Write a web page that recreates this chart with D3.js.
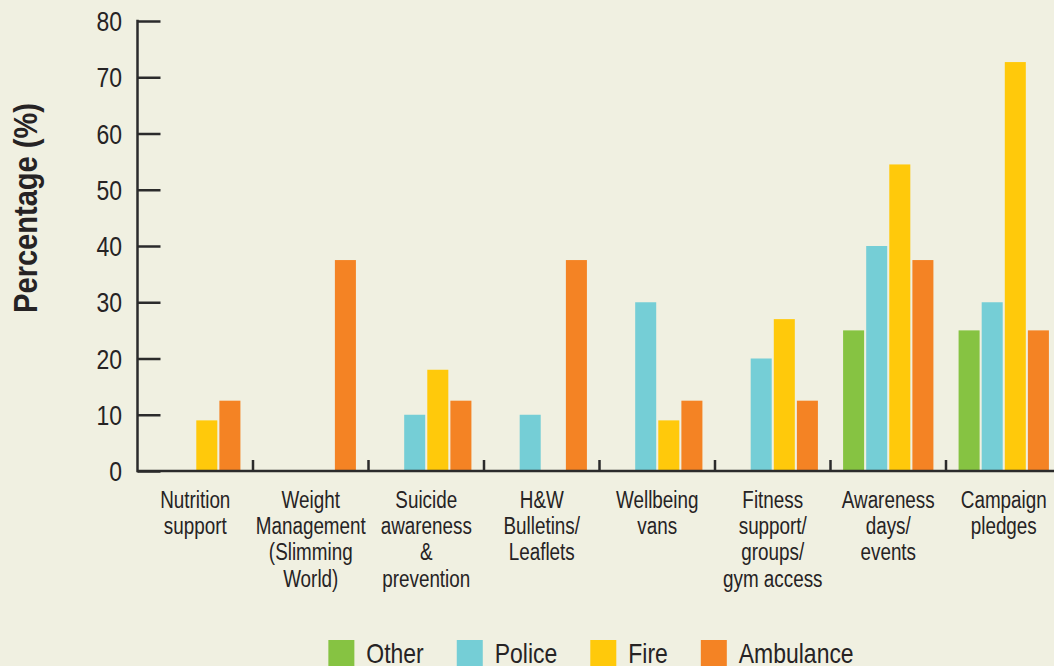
<!DOCTYPE html>
<html>
<head>
<meta charset="utf-8">
<script src="https://cdn.jsdelivr.net/npm/d3@7"></script>
<style>
  html, body { margin: 0; padding: 0; background: #f0f0e1; }
  svg { display: block; }
</style>
</head>
<body>
<main></main>
<script>
var categories = [
    ["Nutrition", "support"],
    ["Weight", "Management", "(Slimming", "World)"],
    ["Suicide", "awareness", "&", "prevention"],
    ["H&W", "Bulletins/", "Leaflets"],
    ["Wellbeing", "vans"],
    ["Fitness", "support/", "groups/", "gym access"],
    ["Awareness", "days/", "events"],
    ["Campaign", "pledges"]
]

var seriesNames = ["Other", "Police", "Fire", "Ambulance"]
var seriesColors = ["#86c342", "#75ced6", "#ffc90b", "#f48324"]

var other     = [null, null, null, null, null, null, 25, 25]
var police    = [null, null, 10, 10, 30, 20, 40, 30]
var fire      = [9, null, 18, null, 9, 27, 54.5, 72.7]
var ambulance = [12.5, 37.5, 12.5, 37.5, 12.5, 12.5, 37.5, 25]

var yTicks = [0, 10, 20, 30, 40, 50, 60, 70, 80]

var series = [other, police, fire, ambulance]
// no condensed face installed, so squeeze Liberation Sans horizontally
var font = "'Liberation Sans', Arial, sans-serif"
var squeeze = 0.82
var ink = "#262324"

function narrow(x, y, rot, k) {
    return "translate(" + x + "," + y + ")" + (rot ? " rotate(" + rot + ")" : "") + " scale(" + (k || squeeze) + ",1)"
}

var svg = d3.select("main")
    .append("svg")
    .attr("width", 1054)
    .attr("height", 666)
    .style("background", "#f0f0e1")

var x0 = d3.scaleBand()
    .domain(d3.range(categories.length))
    .range([137.5, 1061.5])

var x1 = d3.scaleBand()
    .domain(seriesNames)
    .range([0, x0.bandwidth()])
    .paddingInner(0.09)
    .paddingOuter(0.545)

var y = d3.scaleLinear()
    .domain([0, 80])
    .range([471, 21])

// bars
var groups = svg.append("g")
    .selectAll("g").data(series)
    .enter().append("g")
        .attr("fill", function(d, i) { return seriesColors[i] })

groups.each(function(vals, s) {
    d3.select(this).selectAll("rect")
        .data(vals.map(function(v, i) { return {v: v, i: i} }).filter(function(d) { return d.v != null }))
        .enter().append("rect")
            .attr("x", function(d) { return x0(d.i) + x1(seriesNames[s]) })
            .attr("width", x1.bandwidth())
            .attr("y", function(d) { return y(d.v) })
            .attr("height", function(d) { return y(0) - y(d.v) })
})

// y axis
var yAxis = d3.axisRight(y)
    .tickValues(yTicks)
    .tickSize(23)
    .tickFormat("")

var yGuide = svg.append("g")
    .attr("transform", "translate(137.5,0)")
    .call(yAxis)
yGuide.select(".domain").remove()
yGuide.selectAll("line").attr("stroke", "#2b2b2b").attr("stroke-width", 2.5)

svg.append("line")
    .attr("x1", 137.5).attr("x2", 137.5)
    .attr("y1", y(80) - 1.2).attr("y2", y(0) + 1.2)
    .attr("stroke", "#2b2b2b").attr("stroke-width", 2.5)

svg.append("g").selectAll("text").data(yTicks)
    .enter().append("text")
        .attr("transform", function(d) { return narrow(122, y(d)) })
        .attr("dy", "0.36em")
        .attr("text-anchor", "end")
        .attr("fill", ink)
        .style("font-family", font)
        .style("font-size", "28px")
        .text(function(d) { return d })

// x axis
svg.append("line")
    .attr("x1", 137.5).attr("x2", 1054)
    .attr("y1", y(0)).attr("y2", y(0))
    .attr("stroke", "#2b2b2b").attr("stroke-width", 2.5)

svg.append("g").selectAll("line").data(d3.range(1, categories.length))
    .enter().append("line")
        .attr("x1", function(d) { return x0(d) })
        .attr("x2", function(d) { return x0(d) })
        .attr("y1", y(0))
        .attr("y2", y(0) - 11)
        .attr("stroke", "#2b2b2b").attr("stroke-width", 2.5)

var catLabels = svg.append("g").selectAll("text").data(categories)
    .enter().append("text")
        .attr("transform", function(d, i) { return narrow(x0(i) + x0.bandwidth() / 2, 0) })
        .attr("text-anchor", "middle")
        .attr("fill", ink)
        .style("font-family", font)
        .style("font-size", "23px")

catLabels.each(function(lines) {
    d3.select(this).selectAll("tspan").data(lines)
        .enter().append("tspan")
            .attr("x", 0)
            .attr("y", function(d, j) { return 508 + j * 26.2 })
            .text(function(d) { return d })
})

// y title
svg.append("text")
    .attr("transform", narrow(37, 208, -90, 0.88))
    .attr("text-anchor", "middle")
    .attr("fill", ink)
    .style("font-family", font)
    .style("font-weight", "bold")
    .style("font-size", "33px")
    .text("Percentage (%)")

// legend
var legend = svg.append("g")
var lx = 0
seriesNames.forEach(function(name, i) {
    legend.append("rect")
        .attr("x", lx).attr("y", 640)
        .attr("width", 26).attr("height", 30)
        .attr("fill", seriesColors[i])
    var t = legend.append("text")
        .attr("transform", narrow(lx + 38, 663))
        .attr("fill", ink)
        .style("font-family", font)
        .style("font-size", "28px")
        .text(name)
    lx += 38 + t.node().getComputedTextLength() * squeeze + 33
})
var legendWidth = lx - 33
legend.attr("transform", "translate(" + (591 - legendWidth / 2) + ",0)")
</script>
</body>
</html>
